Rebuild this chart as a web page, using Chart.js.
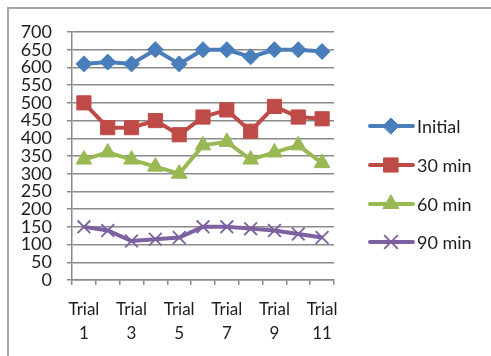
<!DOCTYPE html>
<html>
<head>
<meta charset="utf-8">
<script src="https://cdn.jsdelivr.net/npm/chart.js@4"></script>
<style>
  html, body { margin: 0; padding: 0; background: #fff; }
  #wrap { position: relative; width: 491px; height: 356px; }
</style>
</head>
<body>
<div id="wrap"><canvas id="trialChart" width="491" height="356"></canvas></div>
<script>
const trials = ['Trial 1', 'Trial 2', 'Trial 3', 'Trial 4', 'Trial 5', 'Trial 6',
                'Trial 7', 'Trial 8', 'Trial 9', 'Trial 10', 'Trial 11'];
const initialVals = [610, 615, 610, 650, 610, 650, 650, 630, 650, 650, 645];
const min30Vals = [500, 430, 430, 450, 410, 460, 480, 420, 490, 460, 455];
const min60Vals = [340, 360, 340, 320, 300, 380, 390, 340, 360, 380, 330];
const min90Vals = [150, 140, 110, 115, 120, 150, 150, 145, 140, 130, 120];
const yTicks = [0, 50, 100, 150, 200, 250, 300, 350, 400, 450, 500, 550, 600, 650, 700];

const FONT = 'Lato, "Open Sans", sans-serif';
const GRID = '#8a8a8a';

// frame around the chart + legend with line and marker
const decorPlugin = {
    id: 'decor',
    beforeDraw(chart) {
        const ctx = chart.ctx;
        ctx.save();
        ctx.fillStyle = '#fff';
        ctx.fillRect(0, 0, chart.width, chart.height);
        ctx.strokeStyle = '#a6a6a6';
        ctx.lineWidth = 2;
        ctx.beginPath();
        ctx.moveTo(491, 8);
        ctx.lineTo(8, 8);
        ctx.lineTo(8, 356);
        ctx.stroke();
        ctx.restore();
    },
    afterDraw(chart) {
        const ctx = chart.ctx;
        const rows = [126, 165, 204, 242];
        ctx.save();
        chart.data.datasets.forEach((ds, i) => {
            const y = rows[i];
            ctx.strokeStyle = ds.borderColor;
            ctx.fillStyle = ds.borderColor;
            ctx.lineWidth = 4;
            ctx.lineCap = 'round';
            ctx.beginPath();
            ctx.moveTo(370, y);
            ctx.lineTo(413, y);
            ctx.stroke();
            ctx.lineWidth = ds.pointBorderWidth;
            Chart.helpers.drawPoint(ctx, {
                pointStyle: ds.pointStyle,
                radius: ds.pointRadius,
                borderWidth: ds.pointBorderWidth
            }, 391, y);
            ctx.fillStyle = '#1e1e1e';
            ctx.font = '18px ' + FONT;
            ctx.textBaseline = 'middle';
            ctx.fillText(ds.label, 417, y + 1);
        });
        ctx.restore();
    }
};

function series(label, data, color, style, radius) {
    return {
        label: label,
        data: data,
        borderColor: color,
        backgroundColor: color,
        borderWidth: 4,
        pointStyle: style,
        pointRadius: radius,
        pointHoverRadius: radius,
        pointBackgroundColor: color,
        pointBorderColor: color,
        pointBorderWidth: style === 'crossRot' ? 1.8 : 1,
        tension: 0
    };
}

new Chart(document.getElementById('trialChart').getContext('2d'), {
    type: 'line',
    data: {
        labels: trials,
        datasets: [
            series('Initial', initialVals, '#4a7ebb', 'rectRot', 8),
            series('30 min', min30Vals, '#be4b48', 'rect', 10),
            series('60 min', min60Vals, '#98b954', 'triangle', 9),
            series('90 min', min90Vals, '#7d60a0', 'crossRot', 9)
        ]
    },
    options: {
        responsive: false,
        animation: false,
        layout: { padding: { left: 0, top: 32, right: 157, bottom: 0 } },
        plugins: {
            legend: { display: false },
            tooltip: { enabled: false }
        },
        scales: {
            x: {
                offset: true,
                afterFit(scale) { scale.height = 76; },
                grid: {
                    offset: true,
                    drawOnChartArea: false,
                    drawTicks: true,
                    tickLength: 5,
                    color: GRID,
                    lineWidth: 1.5
                },
                border: { color: GRID, width: 1.5 },
                ticks: {
                    autoSkip: false,
                    maxRotation: 0,
                    padding: 12,
                    color: '#1e1e1e',
                    font: { family: FONT, size: 17, lineHeight: 1.45 },
                    callback(value, index) {
                        return index % 2 === 0 ? trials[index].split(' ') : '';
                    }
                }
            },
            y: {
                min: 0,
                max: 700,
                afterFit(scale) { scale.width = 72; },
                afterBuildTicks(scale) { scale.ticks = yTicks.map(v => ({ value: v })); },
                grid: {
                    color: GRID,
                    lineWidth: 1.5,
                    tickLength: 5
                },
                border: { color: GRID, width: 1.5 },
                ticks: {
                    autoSkip: false,
                    padding: 15,
                    color: '#1e1e1e',
                    font: { family: FONT, size: 18 }
                }
            }
        }
    },
    plugins: [decorPlugin]
});
</script>
</body>
</html>
